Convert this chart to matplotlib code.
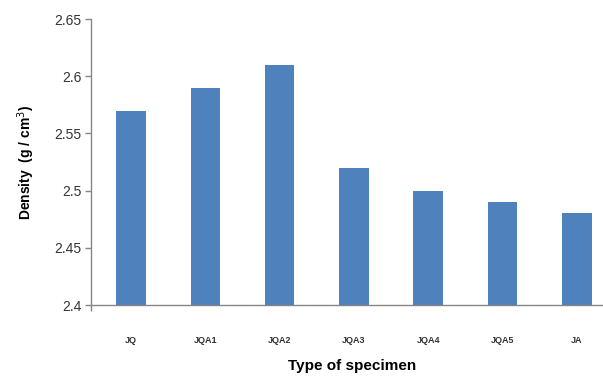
import numpy as np
import matplotlib
matplotlib.use('Agg')
import matplotlib.pyplot as plt

# Densidade por tipo de espécime
specimens = ['JQ', 'JQA1', 'JQA2', 'JQA3', 'JQA4', 'JQA5', 'JA']
density = [2.57, 2.59, 2.61, 2.52, 2.50, 2.49, 2.48]
y_ticks = [2.4, 2.45, 2.5, 2.55, 2.6, 2.65]
y_tick_labels = ['2.4', '2.45', '2.5', '2.55', '2.6', '2.65']

plt.rcParams['font.family'] = ['Liberation Sans', 'DejaVu Sans']

fig = plt.figure(figsize=(6.03, 3.76), dpi=100)
ax = fig.add_axes([0.1509, 0.1888, 0.867, 0.7606])

x = np.arange(len(specimens))
ax.bar(x, density, width=0.4, color='#4F81BD', zorder=2)

ax.set_xlim(-0.54, len(specimens) - 0.5)
ax.set_ylim(2.4, 2.65)
ax.set_yticks(y_ticks)
ax.set_yticklabels(y_tick_labels, fontsize=10, color='#333333')
ax.set_xticks(x)
ax.set_xticklabels(specimens, fontsize=6.5, fontweight='bold', color='#333333')

# Eixos no estilo Excel: só linhas esquerda e inferior, cinza
for side in ['top', 'right']:
    ax.spines[side].set_visible(False)
for side in ['left', 'bottom']:
    ax.spines[side].set_color('#868686')
    ax.spines[side].set_linewidth(1.0)

ax.tick_params(axis='y', length=4, width=1, color='#868686', pad=3)
ax.tick_params(axis='x', length=0, pad=22)
ax.set_xticks([-0.54], minor=True)
ax.tick_params(axis='x', which='minor', length=4, width=1, color='#868686')

ax.set_ylabel('Density  (g / cm$^3$)', fontsize=10, fontweight='bold', labelpad=12)
ax.set_xlabel('Type of specimen', fontsize=11, fontweight='bold')
ax.xaxis.set_label_coords((352 - 91) / 523, -0.19)

fig.savefig('out.png', dpi=100)
